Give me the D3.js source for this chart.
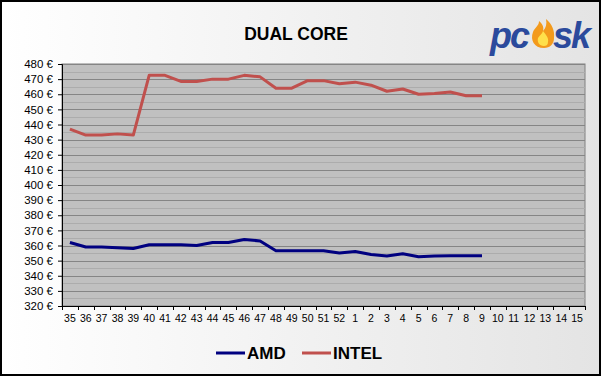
<!DOCTYPE html>
<html>
<head>
<meta charset="utf-8">
<script src="https://cdn.jsdelivr.net/npm/d3@7"></script>
<style>
  body { margin: 0; }
  text { font-family: "Liberation Sans", Arial, sans-serif; }
</style>
</head>
<body>
<script>
// weeks (35..52 of one year, then 1..15 of the next)
var weeks = ["35","36","37","38","39","40","41","42","43","44","45","46","47","48","49","50","51","52",
             "1","2","3","4","5","6","7","8","9","10","11","12","13","14","15"];
var amd = [362,359,359,358.5,358,360.5,360.5,360.5,360,362,362,364,363,356.5,356.5,356.5,356.5,355,356,354,353,354.5,352.5,353,353.3,353.3,353.3];
var intel = [437,433,433,433.8,433,472.5,472.5,468.5,468.5,470,470,472.5,471.5,464,464,469,469,467,468,466,462,463.5,460,460.5,461.5,459,459];
var yTicks = d3.range(320, 481, 10);

var W = 601, H = 376;
var pL = 62, pR = 585, pT = 64, pB = 306;

var svg = d3.select("body").append("svg")
    .attr("width", W)
    .attr("height", H);

var grad = svg.append("defs").append("linearGradient").attr("id", "bg");
grad.append("stop").attr("offset", "0%").attr("stop-color", "#ffffff");
grad.append("stop").attr("offset", "100%").attr("stop-color", "#e4e4e4");

svg.append("rect").attr("x", 1).attr("y", 1).attr("width", W - 2).attr("height", H - 2)
    .attr("fill", "url(#bg)").attr("stroke", "#000").attr("stroke-width", 2);

var x = d3.scaleBand().domain(weeks).range([pL, pR]);
var y = d3.scaleLinear().domain([320, 480]).range([pB, pT]);

// plot area
svg.append("rect").attr("x", pL).attr("y", pT)
    .attr("width", pR - pL).attr("height", pB - pT)
    .attr("fill", "#c0c0c0").attr("stroke", "#808080").attr("stroke-width", 1);

// minor gridlines every 5
svg.selectAll(".minor").data(d3.range(325, 480, 10)).enter().append("line")
    .attr("x1", pL).attr("x2", pR)
    .attr("y1", function (d) { return Math.round(y(d)) + 0.5; }).attr("y2", function (d) { return Math.round(y(d)) + 0.5; })
    .attr("stroke", "#acacac").attr("stroke-width", 1);

// major gridlines
svg.selectAll(".major").data(yTicks.slice(1)).enter().append("line")
    .attr("x1", pL).attr("x2", pR)
    .attr("y1", function (d) { return Math.round(y(d)) + 0.5; }).attr("y2", function (d) { return Math.round(y(d)) + 0.5; })
    .attr("stroke", "#858585").attr("stroke-width", 1);

// y axis
var yAxis = svg.append("g").attr("transform", "translate(" + pL + ",0)")
    .call(d3.axisLeft(y).tickValues(yTicks).tickSize(4).tickPadding(5)
        .tickFormat(function (d) { return d + " €"; }));
yAxis.select(".domain").attr("stroke", "#000");
yAxis.selectAll("text").attr("font-size", 11.5).attr("font-family", "Liberation Sans, Arial, sans-serif").attr("fill", "#000");

// x axis: ticks at band boundaries
var xAxis = svg.append("g").attr("transform", "translate(0," + pB + ")")
    .call(d3.axisBottom(x).tickSize(0).tickPadding(9));
xAxis.select(".domain").attr("stroke", "#000");
xAxis.selectAll("text").attr("font-size", 10.5).attr("font-family", "Liberation Sans, Arial, sans-serif")
    .attr("fill", "#000");
xAxis.selectAll(".bound").data(weeks.concat(["end"])).enter().append("line")
    .attr("x1", function (d, i) { return left0(i); })
    .attr("x2", function (d, i) { return left0(i); })
    .attr("y1", 0).attr("y2", 4).attr("stroke", "#000");
function left0(i) { return Math.round(pL + i * x.step()) + 0.5; }

// lines
var line = d3.line()
    .x(function (d, i) { return x(weeks[i]) + x.bandwidth() / 2; })
    .y(function (d) { return y(d); });

svg.append("path").datum(intel).attr("d", line)
    .attr("fill", "none").attr("stroke", "#c0504d").attr("stroke-width", 3)
    .attr("stroke-linejoin", "round");
svg.append("path").datum(amd).attr("d", line)
    .attr("fill", "none").attr("stroke", "#000080").attr("stroke-width", 3)
    .attr("stroke-linejoin", "round");

// title
svg.append("text").attr("x", 296).attr("y", 40).attr("text-anchor", "middle")
    .attr("font-size", 17.5).attr("font-weight", "bold").text("DUAL CORE");

// logo
var logo = svg.append("g").attr("transform", "translate(490,48)");
logo.append("text").attr("x", 0).attr("y", 0).attr("font-size", 36).attr("font-weight", "900")
    .attr("font-style", "italic").attr("fill", "#2b4a9c").attr("letter-spacing", "-2px").text("pc");
logo.append("path")
    .attr("d", "M54,0 C44,0 40,-8 43,-16 C45,-21 49,-22 49,-27 C53,-24 54,-20 53,-17 C56,-20 57,-24 56,-29 C62,-24 65,-17 64,-10 C64,-4 60,0 54,0 Z")
    .attr("fill", "#f39a1c");
logo.append("path")
    .attr("d", "M54,-2 C49,-2 47,-6 48,-10 C50,-13 52,-14 53,-17 C56,-13 59,-10 58,-6 C58,-3 56,-2 54,-2 Z")
    .attr("fill", "#ffe04a");
logo.append("text").attr("x", 63).attr("y", 0).attr("font-size", 36).attr("font-weight", "900")
    .attr("font-style", "italic").attr("fill", "#2b4a9c").attr("letter-spacing", "-2px").text("sk");

// legend
var legend = [{ name: "AMD", color: "#000080", x: 216 }, { name: "INTEL", color: "#c0504d", x: 302 }];
var lg = svg.selectAll(".lg").data(legend).enter().append("g");
lg.append("line")
    .attr("x1", function (d) { return d.x; }).attr("x2", function (d) { return d.x + 29; })
    .attr("y1", 353).attr("y2", 353)
    .attr("stroke", function (d) { return d.color; }).attr("stroke-width", 3);
lg.append("text")
    .attr("x", function (d) { return d.x + 31; }).attr("y", 359)
    .attr("font-size", 17).attr("font-weight", "bold").text(function (d) { return d.name; });
</script>
</body>
</html>
